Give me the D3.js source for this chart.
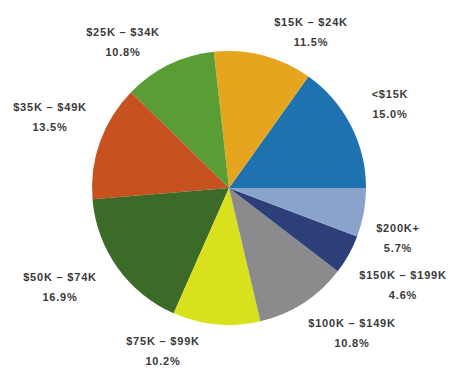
<!DOCTYPE html>
<html><head><meta charset="utf-8">
<script src="https://cdn.jsdelivr.net/npm/d3@7"></script>
<style>body{margin:0;background:#fff}</style>
</head><body>
<svg id="chart" width="458" height="371"></svg>
<script>
const categories = ["<$15K","$15K – $24K","$25K – $34K","$35K – $49K","$50K – $74K","$75K – $99K","$100K – $149K","$150K – $199K","$200K+"];
const values = [15.0, 11.5, 10.8, 13.5, 16.9, 10.2, 10.8, 4.6, 5.7];
const valueLabels = ["15.0%","11.5%","10.8%","13.5%","16.9%","10.2%","10.8%","4.6%","5.7%"];
const colors = ["#1f72b0","#e6a51e","#5b9d35","#c8521f","#3b6a29","#d9e01c","#8b8b8e","#2c3f78","#8aa3cb"];
const labelPos = [[390,104],[311,32],[123,42],[50,117],[60,287],[163,351],[352,333],[403,285],[398,238]];

const svg = d3.select("#chart");
const cx = 229, cy = 188, r = 137;
const pie = d3.pie().sort(null).value(d => d).startAngle(Math.PI/2).endAngle(Math.PI/2 - 2*Math.PI);
const arc = d3.arc().innerRadius(0).outerRadius(r);
const g = svg.append("g").attr("transform", `translate(${cx},${cy})`);
g.selectAll("path").data(pie(values)).join("path")
  .attr("d", arc).attr("fill", (d,i) => colors[i]);

const lab = svg.append("g").attr("font-family","Liberation Sans, Arial, sans-serif")
  .attr("font-size", 11).attr("font-weight","bold").attr("letter-spacing", 0.8)
  .attr("fill", "#3a3a3a").attr("text-anchor","middle");
categories.forEach((c,i) => {
  lab.append("text").attr("x", labelPos[i][0]).attr("y", labelPos[i][1]-6).text(c);
  lab.append("text").attr("x", labelPos[i][0]).attr("y", labelPos[i][1]+14).text(valueLabels[i]);
});
</script>
</body></html>
